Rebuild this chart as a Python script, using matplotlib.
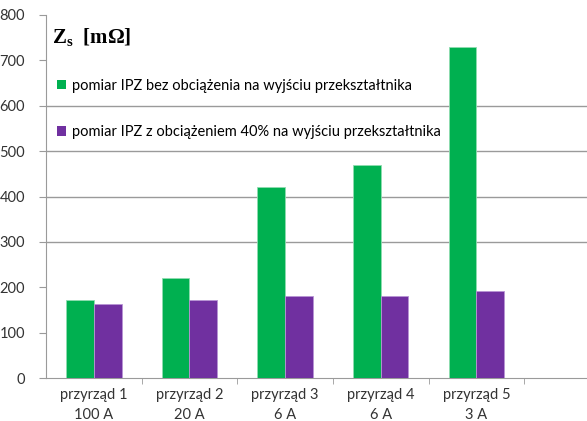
import numpy as np
import matplotlib.pyplot as plt

# dane
kategorie = ['przyrząd 1\n100 A', 'przyrząd 2\n20 A', 'przyrząd 3\n6 A',
             'przyrząd 4\n6 A', 'przyrząd 5\n3 A']
bez_obciazenia = [171, 220, 420, 469, 729]
z_obciazeniem = [163, 171, 180, 180, 191]
etykiety = ['pomiar IPZ bez obciążenia na wyjściu przekształtnika',
            'pomiar IPZ z obciążeniem 40% na wyjściu przekształtnika']
kolory = ['#00B050', '#7030A0']
siatka = [300, 400, 500, 600]

plt.rcParams['font.family'] = ['Lato', 'DejaVu Sans']

fig = plt.figure(figsize=(5.87, 4.21), dpi=100)
ax = fig.add_axes([46 / 587, 43 / 421, 1 - 46 / 587, 363 / 421])

x = np.arange(len(kategorie))
w = 0.29
ax.bar(x - w / 2, bez_obciazenia, w, color=kolory[0], edgecolor='#8fdcb0',
       linewidth=0.6, label=etykiety[0], zorder=3)
ax.bar(x + w / 2, z_obciazeniem, w, color=kolory[1], edgecolor='#b894d4',
       linewidth=0.6, label=etykiety[1], zorder=3)

ax.hlines(siatka, -0.5, 6, color='#9a9a9a', linewidth=1, zorder=1)

ax.set_xlim(-0.5, 4.5 + 63 / 96)
ax.set_ylim(0, 800)
ax.set_yticks(range(0, 801, 100))
ax.set_xticks(x)
ax.set_xticklabels(kategorie, fontsize=10.5, color='#333333', linespacing=1.6)
ax.set_xticks(np.arange(0.5, 5, 1), minor=True)
ax.tick_params(axis='x', which='major', length=0, pad=7)
ax.tick_params(axis='x', which='minor', length=4, color='#9a9a9a')
ax.tick_params(axis='y', length=5, color='#9a9a9a', labelsize=10.5,
               labelcolor='#333333', pad=10)

for s in ['top', 'right']:
    ax.spines[s].set_visible(False)
for s in ['left', 'bottom']:
    ax.spines[s].set_color('#9a9a9a')

fig.text(52 / 587, 1 - 38 / 421, r'Z$_\mathregular{s}$  [mΩ]', family='Liberation Serif',
         fontweight='bold', fontsize=15, va='center', ha='left')

leg = ax.legend(loc='upper left', bbox_to_anchor=(57 / 587, 1 - 79 / 421),
                bbox_transform=fig.transFigure, frameon=False, fontsize=10.5,
                handlelength=0.6, handleheight=0.6, handletextpad=0.4,
                labelspacing=2.2, borderaxespad=0, borderpad=0)
for h in leg.legend_handles:
    h.set_linewidth(0)

fig.savefig('out.png', dpi=100)
